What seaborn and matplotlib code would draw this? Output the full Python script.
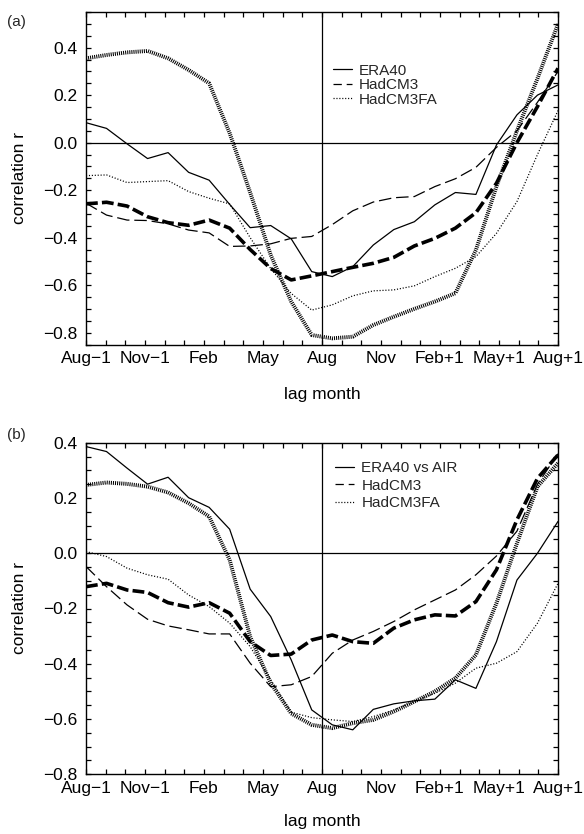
import numpy as np
import pandas as pd
import matplotlib
matplotlib.use("Agg")
import matplotlib.pyplot as plt
from matplotlib.lines import Line2D
from matplotlib.ticker import MultipleLocator, FuncFormatter
import seaborn as sns

# ---------------- data ----------------
lag_index = np.arange(24)                     # 24 monthly lags spanning Aug-1 .. Aug+1
tick_labels = ["Aug\u22121", "Nov\u22121", "Feb", "May", "Aug", "Nov", "Feb+1", "May+1", "Aug+1"]

# panel (a)
era40_a   = [0.084, 0.060, -0.005, -0.067, -0.042, -0.125, -0.158, -0.26, -0.358, -0.349, -0.405, -0.543,
             -0.564, -0.522, -0.431, -0.366, -0.333, -0.262, -0.21, -0.218, -0.01, 0.117, 0.20, 0.243]
hadcm3_a  = [-0.255, -0.305, -0.326, -0.328, -0.342, -0.368, -0.38, -0.437, -0.435, -0.426, -0.403, -0.395,
             -0.345, -0.287, -0.25, -0.232, -0.227, -0.185, -0.152, -0.104, -0.02, 0.05, 0.17, 0.30]
hadcm3_ens_a = [-0.258, -0.251, -0.267, -0.312, -0.337, -0.348, -0.326, -0.36, -0.45, -0.53, -0.578, -0.561,
                -0.543, -0.525, -0.508, -0.483, -0.435, -0.403, -0.36, -0.295, -0.171, 0.0, 0.152, 0.313]
hadfa_a   = [-0.139, -0.136, -0.168, -0.164, -0.16, -0.206, -0.234, -0.258, -0.40, -0.53, -0.635, -0.705,
             -0.683, -0.645, -0.624, -0.62, -0.603, -0.564, -0.529, -0.48, -0.382, -0.248, -0.05, 0.135]
hadfa_ens_a = [0.355, 0.369, 0.38, 0.386, 0.355, 0.306, 0.25, 0.04, -0.21, -0.473, -0.669, -0.81,
               -0.824, -0.817, -0.768, -0.733, -0.70, -0.669, -0.634, -0.452, -0.185, 0.05, 0.27, 0.50]

# panel (b)
era40_b   = [0.386, 0.368, 0.308, 0.25, 0.275, 0.201, 0.166, 0.087, -0.13, -0.229, -0.386, -0.567,
             -0.621, -0.639, -0.565, -0.545, -0.534, -0.528, -0.458, -0.489, -0.32, -0.097, 0.0, 0.115]
hadcm3_b  = [-0.048, -0.121, -0.187, -0.239, -0.263, -0.277, -0.292, -0.292, -0.398, -0.483, -0.476, -0.446,
             -0.362, -0.314, -0.283, -0.247, -0.205, -0.169, -0.133, -0.078, -0.01, 0.08, 0.25, 0.36]
hadcm3_ens_b = [-0.121, -0.109, -0.133, -0.142, -0.179, -0.195, -0.179, -0.217, -0.32, -0.37, -0.365, -0.314,
                -0.296, -0.32, -0.326, -0.271, -0.241, -0.223, -0.227, -0.175, -0.06, 0.121, 0.271, 0.356]
hadfa_b   = [0.006, -0.012, -0.054, -0.078, -0.094, -0.151, -0.193, -0.253, -0.338, -0.458, -0.575, -0.595,
             -0.603, -0.609, -0.591, -0.567, -0.537, -0.507, -0.47, -0.416, -0.398, -0.356, -0.253, -0.109]
hadfa_ens_b = [0.247, 0.256, 0.251, 0.241, 0.22, 0.181, 0.133, -0.024, -0.302, -0.47, -0.58, -0.621,
               -0.633, -0.615, -0.603, -0.573, -0.537, -0.5, -0.452, -0.368, -0.181, 0.036, 0.241, 0.326]

# ---------------- style ----------------
sns.set_theme(style="ticks")
plt.rcParams["font.family"] = ["Liberation Sans", "DejaVu Sans"]
plt.rcParams["lines.scale_dashes"] = False

# x position: 24 samples spread over the 24-month axis
xpos = lag_index * 24.0 / 23.0

STY = {
    "era":     dict(lw=0.9, ls="-"),
    "had":     dict(lw=0.9, ls=(0, (9, 3.5))),
    "had_ens": dict(lw=2.6, ls=(0, (8.5, 3))),
    "fa":      dict(lw=0.9, ls=(0, (0.8, 1.3))),
    "fa_ens":  dict(lw=2.8, ls=(0, (0.75, 0.75))),
}

TICK_FS = 12.5
LAB_FS = 12.5
LEG_FS = 11

fig = plt.figure(figsize=(5.84, 8.34), dpi=100)
W, H = 584, 834
axA = fig.add_axes([86 / W, 1 - 345 / H, 472 / W, 333 / H])
axB = fig.add_axes([86 / W, 1 - 774.3 / H, 472 / W, 331.6 / H])


def draw(ax, series, ylim, era_label, leg_anchor, leg_spacing):
    ax.axhline(0, color="black", lw=0.9, zorder=1)
    ax.axvline(12, color="black", lw=0.9, zorder=1)
    for key, vals in series:
        df = pd.DataFrame({"x": xpos, "y": vals})
        sns.lineplot(data=df, x="x", y="y", ax=ax, color="black",
                     linewidth=STY[key]["lw"], linestyle=STY[key]["ls"],
                     legend=False, zorder=3)
    ax.set_xlim(0, 24)
    ax.set_ylim(*ylim)
    ax.xaxis.set_minor_locator(MultipleLocator(1))
    ax.set_xticks(np.arange(0, 25, 3))
    ax.set_xticklabels(tick_labels)
    ax.yaxis.set_major_locator(MultipleLocator(0.2))
    ax.yaxis.set_minor_locator(MultipleLocator(0.05))
    ax.yaxis.set_major_formatter(FuncFormatter(
        lambda v, p: ("%.1f" % v).replace("-", "\u2212") if abs(v) > 1e-9 else "0.0"))
    ax.tick_params(which="both", direction="in", top=True, right=True,
                   length=3.8, width=0.9, color="black", labelsize=TICK_FS, labelcolor="black")
    ax.tick_params(axis="y", which="major", pad=6)
    ax.tick_params(axis="x", which="major", pad=4.5)
    for s in ax.spines.values():
        s.set_linewidth(1.0)
        s.set_color("black")
        s.set_visible(True)
    ax.set_facecolor("white")
    ax.grid(False)
    ax.set_ylabel("correlation r", fontsize=LAB_FS, color="black")
    ax.set_xlabel("lag month", fontsize=LAB_FS, color="black")
    ax.yaxis.set_label_coords(-0.124, 0.5)
    handles = [Line2D([], [], color="black", lw=0.9, ls="-"),
               Line2D([], [], color="black", lw=0.9, ls=(0, (6, 3.5))),
               Line2D([], [], color="black", lw=0.9, ls=(0, (0.8, 1.3)))]
    ax.legend(handles, [era_label, "HadCM3", "HadCM3FA"], loc="upper left",
              bbox_to_anchor=leg_anchor, frameon=False, fontsize=LEG_FS,
              handlelength=1.25, handletextpad=0.46, labelspacing=leg_spacing,
              borderpad=0, borderaxespad=0)


draw(axA, [("era", era40_a), ("had", hadcm3_a), ("had_ens", hadcm3_ens_a),
           ("fa", hadfa_a), ("fa_ens", hadfa_ens_a)],
     (-0.852, 0.55), "ERA40", (0.523, 0.845), 0.04)
axA.xaxis.set_label_coords(0.5, -0.125)

draw(axB, [("era", era40_b), ("had", hadcm3_b), ("had_ens", hadcm3_ens_b),
           ("fa", hadfa_b), ("fa_ens", hadfa_ens_b)],
     (-0.8, 0.4), "ERA40 vs AIR", (0.528, 0.944), 0.22)
axB.xaxis.set_label_coords(0.5, -0.12)

fig.text(7 / W, 1 - 22 / H, "(a)", fontsize=11, va="center", ha="left")
fig.text(7 / W, 1 - 435 / H, "(b)", fontsize=11, va="center", ha="left")

fig.savefig("out.png", dpi=100, facecolor="white")
